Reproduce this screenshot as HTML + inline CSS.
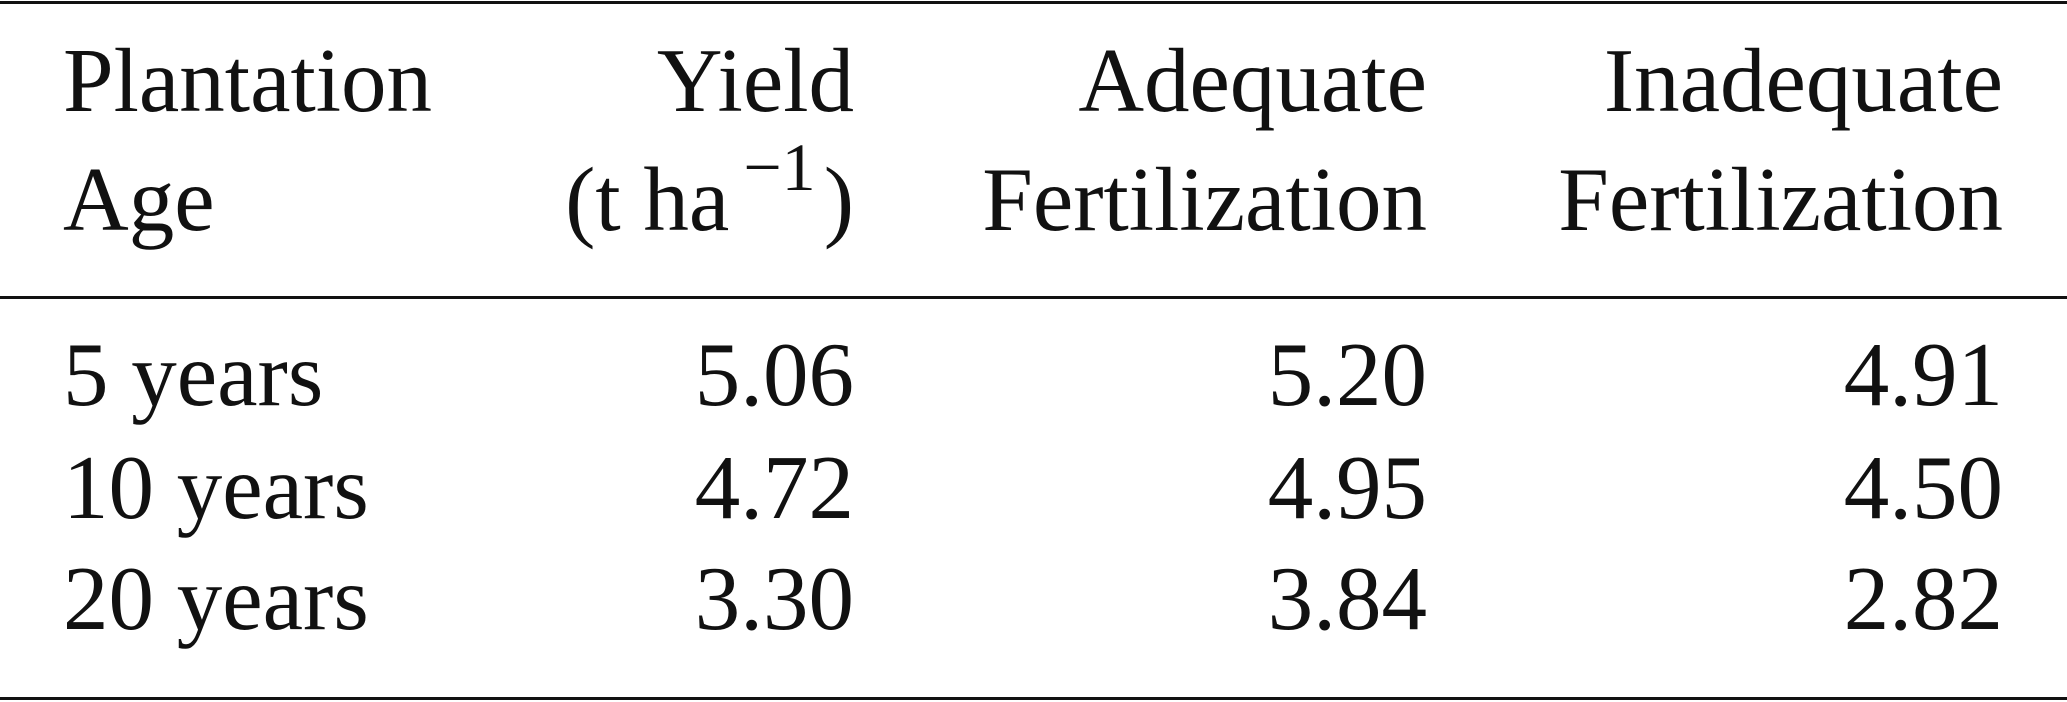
<!DOCTYPE html>
<html><head><meta charset="utf-8"><style>
html,body{margin:0;padding:0;background:#fff;}
svg{display:block;}
text{font-family:"Liberation Serif",serif;font-size:91px;fill:#111;}
</style></head><body>
<svg width="2067" height="702" viewBox="0 0 2067 702" xmlns="http://www.w3.org/2000/svg">
<rect x="0" y="1" width="2067" height="3" fill="#111"/>
<rect x="0" y="296" width="2067" height="3" fill="#111"/>
<rect x="0" y="697" width="2067" height="3" fill="#111"/>

<text x="63" y="111">Plantation</text>
<text x="63" y="230">Age</text>
<text x="854" y="111" text-anchor="end">Yield</text>
<text x="854" y="230" text-anchor="end">(t ha<tspan dx="14" dy="-40" font-size="68">−1</tspan><tspan dx="8" dy="40">)</tspan></text>
<text x="1427" y="111" text-anchor="end">Adequate</text>
<text x="1427" y="230" text-anchor="end">Fertilization</text>
<text x="2003" y="111" text-anchor="end">Inadequate</text>
<text x="2003" y="230" text-anchor="end">Fertilization</text>

<text x="63" y="405">5 years</text>
<text x="854" y="405" text-anchor="end">5.06</text>
<text x="1427" y="405" text-anchor="end">5.20</text>
<text x="2003" y="405" text-anchor="end">4.91</text>

<text x="63" y="518">10 years</text>
<text x="854" y="518" text-anchor="end">4.72</text>
<text x="1427" y="518" text-anchor="end">4.95</text>
<text x="2003" y="518" text-anchor="end">4.50</text>

<text x="63" y="629">20 years</text>
<text x="854" y="629" text-anchor="end">3.30</text>
<text x="1427" y="629" text-anchor="end">3.84</text>
<text x="2003" y="629" text-anchor="end">2.82</text>
</svg>
</body></html>
